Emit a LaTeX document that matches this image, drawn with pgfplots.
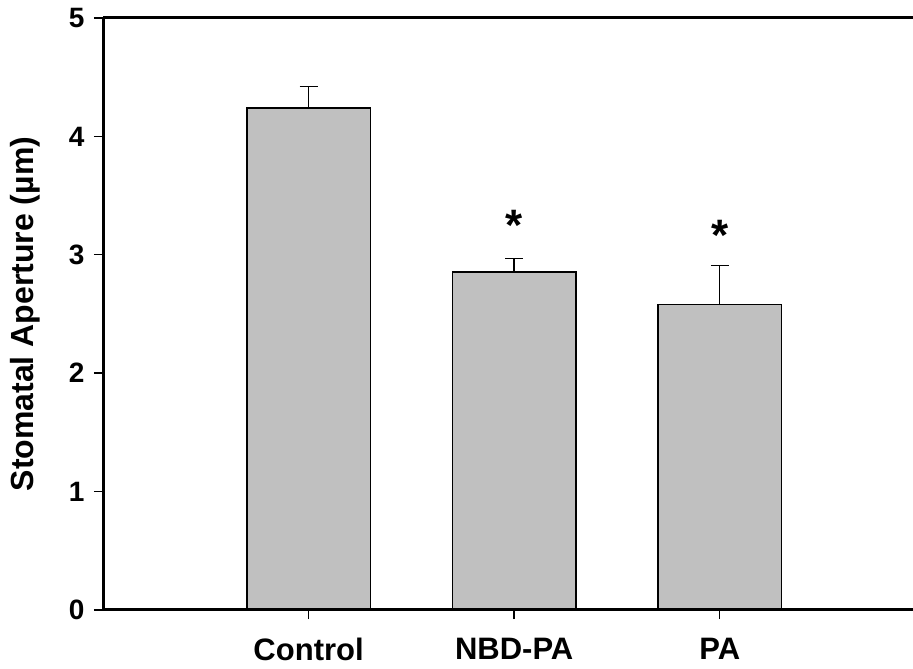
\documentclass[border=0pt]{standalone}
\usepackage{pgfplots}
\pgfplotsset{compat=1.18}
\usepackage{fontspec}
\setmainfont{Liberation Sans}
\definecolor{barfill}{RGB}{192,192,192}
\begin{document}
\begin{tikzpicture}
\useasboundingbox (0,0) rectangle (913pt,669pt);
\begin{axis}[
  at={(103pt,59pt)}, anchor=south west,
  scale only axis, width=810pt, height=592pt,
  xmin=-1, xmax=2.94, ymin=0, ymax=5,
  axis lines=left,
  axis line style={-, line width=3pt, black},
  axis on top=true,
  xtick={0,1,2}, xticklabels={Control,NBD-PA,PA},
  ytick={0,1,2,3,4,5},
  yticklabel={\pgfmathprintnumber{\tick}},
  tick align=outside,
  major tick length=9pt,
  tick style={line width=1.4pt, black},
  x tick label style={font=\bfseries\fontsize{31}{36}\selectfont, yshift=-16pt},
  y tick label style={font=\bfseries\fontsize{28}{32}\selectfont, xshift=-6pt},
  /pgf/number format/assume math mode=true,
  ylabel={Stomatal Aperture (µm)},
  ylabel style={font=\bfseries\fontsize{32}{38}\selectfont, at={(axis description cs:-0.0963,0.5)}, anchor=center},
  clip=false,
]
\addplot[ybar, bar width=0.6, fill=barfill, draw=black, line width=1.4pt,
  error bars/.cd, y dir=plus, y explicit,
  error bar style={line width=1.4pt, black},
  error mark options={rotate=90, mark size=9pt, line width=1.4pt, black}]
  coordinates {(0,4.24) +- (0,0.18) (1,2.855) +- (0,0.115) (2,2.58) +- (0,0.33)};
\addplot[draw=none, mark=none, nodes near coords={*},
  every node near coord/.append style={font=\bfseries\fontsize{44}{50}\selectfont, anchor=center, yshift=-10pt}]
  coordinates {(1,3.33) (2,3.25)};
\draw[line width=3pt, black] (rel axis cs:0,1) -- (rel axis cs:1,1);
\end{axis}
\end{tikzpicture}
\end{document}
